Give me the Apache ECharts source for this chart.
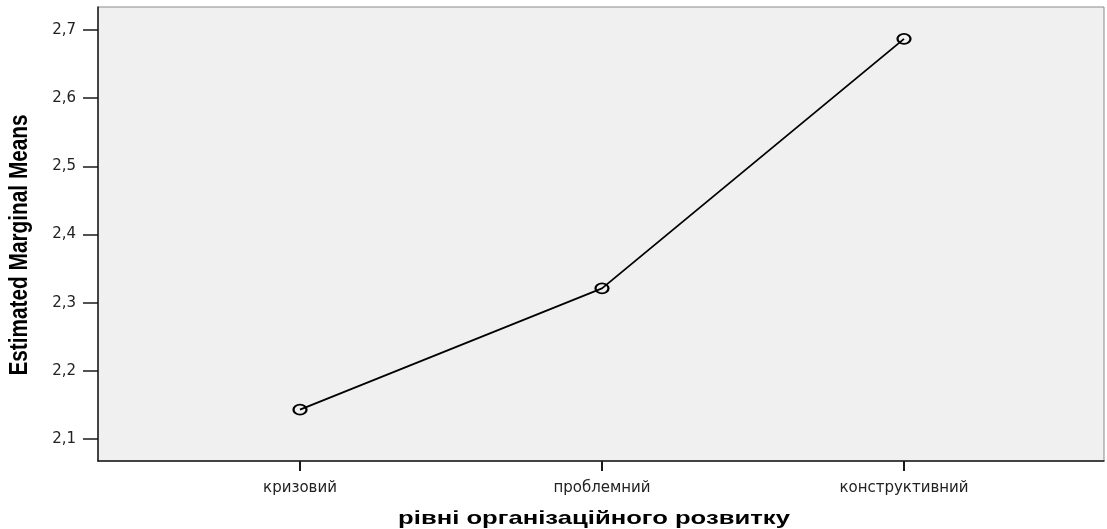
<!DOCTYPE html>
<html>
<head>
<meta charset="utf-8">
<script src="https://cdn.jsdelivr.net/npm/echarts@6/dist/echarts.min.js"></script>
<style>html,body{margin:0;padding:0;background:#fff;}#c{width:1107px;height:529px;}</style>
</head>
<body>
<div id="c"></div>
<script>
const categories = ['кризовий', 'проблемний', 'конструктивний'];
const means = [2.143, 2.321, 2.687];
const yTicks = { min: 2.1, max: 2.7, step: 0.1 };
const yTitle = 'Estimated Marginal Means';
const xTitle = 'рівні організаційного розвитку';

const chart = echarts.init(document.getElementById('c'));
const dark = '#1a1a1a';
chart.setOption({
  animation: false,
  backgroundColor: '#ffffff',
  grid: [
    { left: 98, right: 3, top: 7, bottom: 68, show: true, backgroundColor: '#f0f0f0', borderColor: '#8a8a8a', borderWidth: 1 },
    { left: 300, right: 203, top: 30, bottom: 90 }
  ],
  xAxis: [
    { gridIndex: 0, type: 'value', min: 0, max: 1, axisLine: { show: true, lineStyle: { color: dark, width: 1.5 } }, axisTick: { show: false }, axisLabel: { show: false }, splitLine: { show: false } },
    { gridIndex: 1, type: 'category', data: categories, boundaryGap: false, offset: 22,
      axisLine: { show: false }, axisTick: { show: true, length: 10, lineStyle: { color: dark, width: 2 } },
      axisLabel: { color: '#222', fontFamily: '"DejaVu Sans", sans-serif', fontSize: 15, margin: 20 },
      splitLine: { show: false } }
  ],
  yAxis: [
    { gridIndex: 0, type: 'value', min: 0, max: 1, axisLine: { show: true, lineStyle: { color: dark, width: 1.5 } }, axisTick: { show: false }, axisLabel: { show: false }, splitLine: { show: false } },
    { gridIndex: 1, type: 'value', min: yTicks.min, max: yTicks.max, interval: yTicks.step, offset: 202,
      axisLine: { show: false }, axisTick: { show: true, length: 15, lineStyle: { color: dark, width: 1.5 } },
      axisLabel: { color: '#222', fontFamily: '"DejaVu Sans", sans-serif', fontSize: 15, margin: 22,
        formatter: v => v.toFixed(1).replace('.', ',') },
      splitLine: { show: false } }
  ],
  series: [{
    type: 'line', xAxisIndex: 1, yAxisIndex: 1, data: means,
    lineStyle: { color: '#000', width: 1.8 },
    symbol: 'circle', symbolSize: [13, 10],
    itemStyle: { color: 'rgba(0,0,0,0)', borderColor: '#000', borderWidth: 2 },
    z: 5
  }],
  graphic: [
    { type: 'text', x: 19.5, y: 245, rotation: Math.PI / 2, scaleX: 0.8, scaleY: 1,
      style: { text: yTitle, font: 'bold 26px "Liberation Sans", Arial, sans-serif', fill: '#000', align: 'center', verticalAlign: 'middle' } },
    { type: 'text', x: 594, y: 519, scaleX: 1.35, scaleY: 1,
      style: { text: xTitle, font: 'bold 19px "Liberation Sans", Arial, sans-serif', fill: '#000', align: 'center', verticalAlign: 'middle' } }
  ]
});
</script>
</body>
</html>
